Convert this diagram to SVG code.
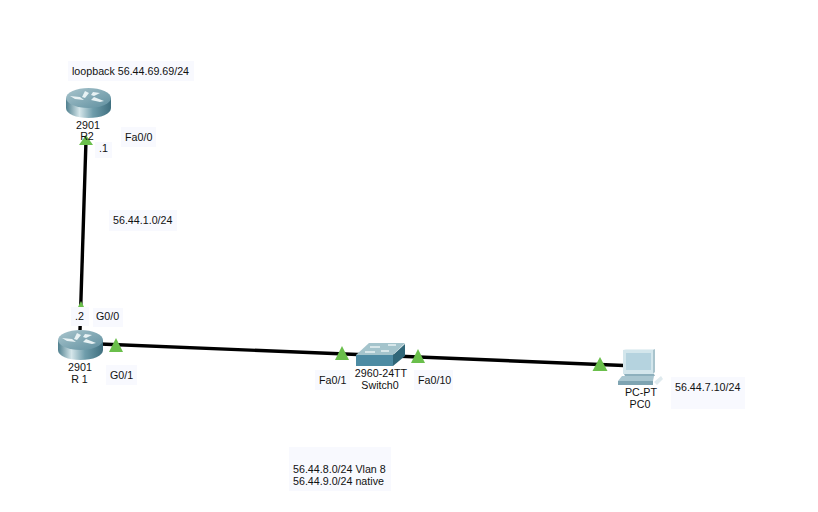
<svg xmlns="http://www.w3.org/2000/svg" width="818" height="512" viewBox="0 0 818 512">
<style>
text{font-family:"Liberation Sans",Arial,sans-serif;font-size:10.7px;fill:#111}
.m{text-anchor:middle}
.bg{fill:#f8f9fe}
.ln{stroke:#000;stroke-width:3.4;fill:none}
.tri{fill:#6abf4b}
</style>
<defs>
<linearGradient id="rs" x1="0" x2="1" y1="0" y2="0"><stop offset="0" stop-color="#4f7f8e"/><stop offset=".3" stop-color="#d5e6ea"/><stop offset=".6" stop-color="#6f9dab"/><stop offset="1" stop-color="#3f6f7f"/></linearGradient>
<linearGradient id="rt" x1="0" x2="1" y1="0" y2="1"><stop offset="0" stop-color="#a9c5cd"/><stop offset="1" stop-color="#5f8f9f"/></linearGradient>
<g id="router">
<path d="M0 10V20C0 26 10 30 22.500 30S45 26 45 20V10Z" fill="url(#rs)"/>
<ellipse cx="22.500" cy="10" rx="22.500" ry="10" fill="url(#rt)"/>
<path d="M4 8l10 1 4 3-9-1zM19 3l4 2-4 5-3-1zM27 4l7 1-6 3-3-1zM25 12l3-3 10 4-4 1z" fill="#e8f2f4"/>
</g>
</defs>
<g id="connectors">
<path class="ln" d="M86 140L80 330"/>
<path class="ln" d="M100 344L624 365.500"/>
</g>
<g id="labels-bg">
<rect class="bg" x="68" y="61" width="126" height="20"/>
<rect class="bg" x="121" y="127" width="35" height="20"/>
<rect class="bg" x="95" y="142" width="17" height="16"/>
<rect class="bg" x="109" y="210" width="68" height="21"/>
<rect class="bg" x="71" y="307" width="18" height="19"/>
<rect class="bg" x="93" y="308" width="30" height="19"/>
<rect class="bg" x="106" y="365" width="31" height="20"/>
<rect class="bg" x="315" y="370" width="35" height="20"/>
<rect class="bg" x="414" y="370" width="39" height="20"/>
<rect class="bg" x="671" y="377" width="74" height="32"/>
<rect class="bg" x="289" y="447" width="102" height="44"/>
</g>
<g id="R2">
<use href="#router" x="66" y="88"/>
<path class="tri" d="M86 135l7 10h-14z"/>
<text class="m" x="88" y="129">2901</text>
<text class="m" x="87" y="140">R2</text>
</g>
<g id="R1">
<path class="tri" d="M81 301l3 6h-6z"/>
<use href="#router" x="58" y="330"/>
<path class="tri" d="M116 338l7 14h-14z"/>
<text class="m" x="80" y="371">2901</text>
<text class="m" x="79.500" y="383">R 1</text>
</g>
<g id="Switch0">
<path class="tri" d="M342 346l7 14h-14z"/>
<path d="M356 355h37v11h-37z" fill="#4d8ba3"/>
<path d="M393 366V355l12-11v12z" fill="#2f6678"/>
<path d="M356 355l13-12h36l-12 12z" fill="#a4c4cc"/>
<path d="M365 352h10M370 347h10M388 345h8M381 351h8" stroke="#e8f2f4" stroke-width="1.500"/>
<path class="tri" d="M418 349l7 14h-14z"/>
<text class="m" x="381" y="377">2960-24TT</text>
<text class="m" x="380" y="389">Switch0</text>
</g>
<g id="PC0">
<path class="tri" d="M600 357l7.500 14h-15z"/>
<path d="M623 350h30v24h-30z" fill="#d3e6ec"/>
<path d="M623 350l3-1h29l-2 1z" fill="#e8f2f5"/>
<path d="M626 353h25v17h-25z" fill="#b5d3df"/>
<path d="M653 350l2-1v23l-2 2z" fill="#a9c4cd"/>
<path d="M624 374h30l1 2h-30z" fill="#8db0bd"/>
<path d="M622 376h32l-1 5h-35z" fill="#a9c6d0"/>
<path d="M618 381h35v4h-35z" fill="#7fa4b2"/>
<path d="M654 382l7-6 2 3-6 6z" fill="#dfeaee"/>
<text class="m" x="641" y="396">PC-PT</text>
<text class="m" x="640" y="408">PC0</text>
</g>
<g id="texts">
<text x="72" y="75">loopback 56.44.69.69/24</text>
<text x="125" y="141">Fa0/0</text>
<text x="99" y="152">.1</text>
<text x="113" y="224">56.44.1.0/24</text>
<text x="75" y="320">.2</text>
<text x="96" y="320">G0/0</text>
<text x="110" y="379">G0/1</text>
<text x="319" y="384">Fa0/1</text>
<text x="418" y="384">Fa0/10</text>
<text x="675" y="391">56.44.7.10/24</text>
<text x="293" y="473">56.44.8.0/24 Vlan 8</text>
<text x="293" y="485">56.44.9.0/24 native</text>
</g>
</svg>
